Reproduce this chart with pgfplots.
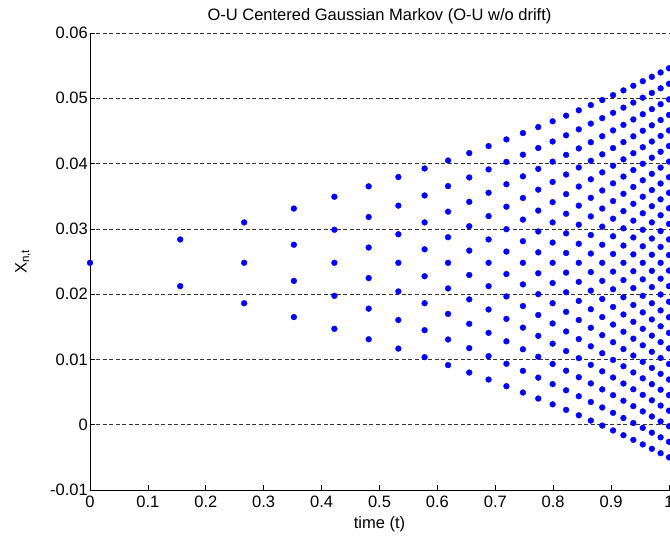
\documentclass[border=0pt]{standalone}
\usepackage{fontspec}
\setmainfont{Liberation Sans}
\usepackage{pgfplots}
\pgfplotsset{compat=1.18}
\begin{document}
\begin{tikzpicture}[font=\fontsize{16.5}{19}\selectfont]
\useasboundingbox (-90pt,-54pt) rectangle (580pt,490pt);
\begin{axis}[
  at={(0pt,0pt)}, anchor=south west,
  scale only axis, width=579pt, height=457pt,
  xmin=0, xmax=1, ymin=-0.01, ymax=0.06,
  axis x line*=bottom, axis y line*=left,
  xtick={0,0.1,0.2,0.3,0.4,0.5,0.6,0.7,0.8,0.9,1},
  xticklabels={0,0.1,0.2,0.3,0.4,0.5,0.6,0.7,0.8,0.9,1},
  ytick={-0.01,0,0.01,0.02,0.03,0.04,0.05,0.06},
  yticklabels={-0.01,0,0.01,0.02,0.03,0.04,0.05,0.06},
  scaled y ticks=false,
  ymajorgrids,
  major grid style={black!80, dash pattern=on 4pt off 2.5pt, line width=0.6pt},
  tick align=inside, major tick length=5pt,
  tick style={black, line width=0.6pt},
  axis line style={black, line width=0.8pt, -},
  yticklabel style={inner sep=2pt},
  xticklabel style={inner sep=2pt, yshift=-4pt},
  clip=false,
  every axis title/.style={at={(axis description cs:0.5,1.037)}, anchor=center},
  title={O-U Centered Gaussian Markov (O-U w/o drift)},
  xlabel={time (t)},
  every axis x label/.style={at={(axis description cs:0.5,-0.074)}, anchor=center},
  ylabel={X\textsubscript{n,t}},
  every axis y label/.style={at={(axis description cs:-0.1157,0.5)}, anchor=center, rotate=90},
]
\addplot[only marks, mark=*, mark size=2.9pt, color={rgb,255:red,0;green,0;blue,255}] coordinates {
(0,0.0248)
(0.1558,0.02838) (0.1558,0.02122)
(0.2663,0.03099) (0.2663,0.0248) (0.2663,0.01861)
(0.3521,0.03311) (0.3521,0.02757) (0.3521,0.02203) (0.3521,0.01649)
(0.4221,0.03492) (0.4221,0.02986) (0.4221,0.0248) (0.4221,0.01974) (0.4221,0.01469)
(0.4813,0.03651) (0.4813,0.03182) (0.4813,0.02714) (0.4813,0.02246) (0.4813,0.01778) (0.4813,0.01309)
(0.5326,0.03794) (0.5326,0.03356) (0.5326,0.02918) (0.5326,0.0248) (0.5326,0.02042) (0.5326,0.01604) (0.5326,0.01166)
(0.5779,0.03925) (0.5779,0.03512) (0.5779,0.03099) (0.5779,0.02687) (0.5779,0.02274) (0.5779,0.01861) (0.5779,0.01448) (0.5779,0.01035)
(0.6184,0.04047) (0.6184,0.03655) (0.6184,0.03264) (0.6184,0.02872) (0.6184,0.0248) (0.6184,0.02088) (0.6184,0.01697) (0.6184,0.01305) (0.6184,0.00913)
(0.6550,0.04161) (0.6550,0.03787) (0.6550,0.03414) (0.6550,0.0304) (0.6550,0.02667) (0.6550,0.02293) (0.6550,0.0192) (0.6550,0.01546) (0.6550,0.01173) (0.6550,0.00799)
(0.6884,0.04268) (0.6884,0.03911) (0.6884,0.03553) (0.6884,0.03195) (0.6884,0.02838) (0.6884,0.0248) (0.6884,0.02122) (0.6884,0.01765) (0.6884,0.01407) (0.6884,0.0105) (0.6884,0.00692)
(0.7192,0.0437) (0.7192,0.04026) (0.7192,0.03683) (0.7192,0.03339) (0.7192,0.02995) (0.7192,0.02652) (0.7192,0.02308) (0.7192,0.01965) (0.7192,0.01621) (0.7192,0.01277) (0.7192,0.00934) (0.7192,0.0059)
(0.7477,0.04467) (0.7477,0.04136) (0.7477,0.03804) (0.7477,0.03473) (0.7477,0.03142) (0.7477,0.02811) (0.7477,0.0248) (0.7477,0.02149) (0.7477,0.01818) (0.7477,0.01487) (0.7477,0.01156) (0.7477,0.00825) (0.7477,0.00493)
(0.7742,0.04559) (0.7742,0.04239) (0.7742,0.03919) (0.7742,0.036) (0.7742,0.0328) (0.7742,0.0296) (0.7742,0.0264) (0.7742,0.0232) (0.7742,0.02) (0.7742,0.0168) (0.7742,0.01361) (0.7742,0.01041) (0.7742,0.00721) (0.7742,0.00401)
(0.7990,0.04648) (0.7990,0.04338) (0.7990,0.04029) (0.7990,0.03719) (0.7990,0.03409) (0.7990,0.03099) (0.7990,0.0279) (0.7990,0.0248) (0.7990,0.0217) (0.7990,0.01861) (0.7990,0.01551) (0.7990,0.01241) (0.7990,0.00931) (0.7990,0.00622) (0.7990,0.00312)
(0.8223,0.04734) (0.8223,0.04433) (0.8223,0.04133) (0.8223,0.03832) (0.8223,0.03532) (0.8223,0.03231) (0.8223,0.02931) (0.8223,0.0263) (0.8223,0.0233) (0.8223,0.02029) (0.8223,0.01729) (0.8223,0.01428) (0.8223,0.01128) (0.8223,0.00828) (0.8223,0.00527) (0.8223,0.00227)
(0.8442,0.04816) (0.8442,0.04524) (0.8442,0.04232) (0.8442,0.0394) (0.8442,0.03648) (0.8442,0.03356) (0.8442,0.03064) (0.8442,0.02772) (0.8442,0.0248) (0.8442,0.02188) (0.8442,0.01896) (0.8442,0.01604) (0.8442,0.01312) (0.8442,0.0102) (0.8442,0.00728) (0.8442,0.00436) (0.8442,0.00144)
(0.8650,0.04896) (0.8650,0.04612) (0.8650,0.04327) (0.8650,0.04043) (0.8650,0.03759) (0.8650,0.03475) (0.8650,0.03191) (0.8650,0.02906) (0.8650,0.02622) (0.8650,0.02338) (0.8650,0.02054) (0.8650,0.01769) (0.8650,0.01485) (0.8650,0.01201) (0.8650,0.00917) (0.8650,0.00633) (0.8650,0.00348) (0.8650,0.00064)
(0.8847,0.04973) (0.8847,0.04696) (0.8847,0.04419) (0.8847,0.04142) (0.8847,0.03865) (0.8847,0.03588) (0.8847,0.03311) (0.8847,0.03034) (0.8847,0.02757) (0.8847,0.0248) (0.8847,0.02203) (0.8847,0.01926) (0.8847,0.01649) (0.8847,0.01372) (0.8847,0.01095) (0.8847,0.00818) (0.8847,0.00541) (0.8847,0.00264) (0.8847,-0.00013)
(0.9034,0.05048) (0.9034,0.04778) (0.9034,0.04508) (0.9034,0.04237) (0.9034,0.03967) (0.9034,0.03697) (0.9034,0.03426) (0.9034,0.03156) (0.9034,0.02886) (0.9034,0.02615) (0.9034,0.02345) (0.9034,0.02075) (0.9034,0.01804) (0.9034,0.01534) (0.9034,0.01264) (0.9034,0.00993) (0.9034,0.00723) (0.9034,0.00452) (0.9034,0.00182) (0.9034,-0.00088)
(0.9213,0.05121) (0.9213,0.04857) (0.9213,0.04593) (0.9213,0.04329) (0.9213,0.04065) (0.9213,0.03801) (0.9213,0.03537) (0.9213,0.03272) (0.9213,0.03008) (0.9213,0.02744) (0.9213,0.0248) (0.9213,0.02216) (0.9213,0.01952) (0.9213,0.01688) (0.9213,0.01424) (0.9213,0.01159) (0.9213,0.00895) (0.9213,0.00631) (0.9213,0.00367) (0.9213,0.00103) (0.9213,-0.00161)
(0.9384,0.05192) (0.9384,0.04934) (0.9384,0.04676) (0.9384,0.04417) (0.9384,0.04159) (0.9384,0.03901) (0.9384,0.03642) (0.9384,0.03384) (0.9384,0.03126) (0.9384,0.02868) (0.9384,0.02609) (0.9384,0.02351) (0.9384,0.02093) (0.9384,0.01834) (0.9384,0.01576) (0.9384,0.01318) (0.9384,0.01059) (0.9384,0.00801) (0.9384,0.00543) (0.9384,0.00284) (0.9384,0.00026) (0.9384,-0.00232)
(0.9547,0.05262) (0.9547,0.05009) (0.9547,0.04756) (0.9547,0.04503) (0.9547,0.0425) (0.9547,0.03997) (0.9547,0.03744) (0.9547,0.03492) (0.9547,0.03239) (0.9547,0.02986) (0.9547,0.02733) (0.9547,0.0248) (0.9547,0.02227) (0.9547,0.01974) (0.9547,0.01721) (0.9547,0.01469) (0.9547,0.01216) (0.9547,0.00963) (0.9547,0.0071) (0.9547,0.00457) (0.9547,0.00204) (0.9547,-0.00049) (0.9547,-0.00302)
(0.9704,0.05329) (0.9704,0.05082) (0.9704,0.04834) (0.9704,0.04586) (0.9704,0.04338) (0.9704,0.0409) (0.9704,0.03843) (0.9704,0.03595) (0.9704,0.03347) (0.9704,0.03099) (0.9704,0.02852) (0.9704,0.02604) (0.9704,0.02356) (0.9704,0.02108) (0.9704,0.01861) (0.9704,0.01613) (0.9704,0.01365) (0.9704,0.01117) (0.9704,0.0087) (0.9704,0.00622) (0.9704,0.00374) (0.9704,0.00126) (0.9704,-0.00122) (0.9704,-0.00369)
(0.9855,0.05396) (0.9855,0.05153) (0.9855,0.0491) (0.9855,0.04667) (0.9855,0.04424) (0.9855,0.04181) (0.9855,0.03938) (0.9855,0.03695) (0.9855,0.03452) (0.9855,0.03209) (0.9855,0.02966) (0.9855,0.02723) (0.9855,0.0248) (0.9855,0.02237) (0.9855,0.01994) (0.9855,0.01751) (0.9855,0.01508) (0.9855,0.01265) (0.9855,0.01022) (0.9855,0.00779) (0.9855,0.00536) (0.9855,0.00293) (0.9855,0.0005) (0.9855,-0.00193) (0.9855,-0.00436)
(1,0.0546) (1,0.05222) (1,0.04983) (1,0.04745) (1,0.04507) (1,0.04268) (1,0.0403) (1,0.03791) (1,0.03553) (1,0.03315) (1,0.03076) (1,0.02838) (1,0.02599) (1,0.02361) (1,0.02122) (1,0.01884) (1,0.01646) (1,0.01407) (1,0.01169) (1,0.0093) (1,0.00692) (1,0.00453) (1,0.00215) (1,-0.00023) (1,-0.00262) (1,-0.005)
};
\end{axis}
\end{tikzpicture}
\end{document}
